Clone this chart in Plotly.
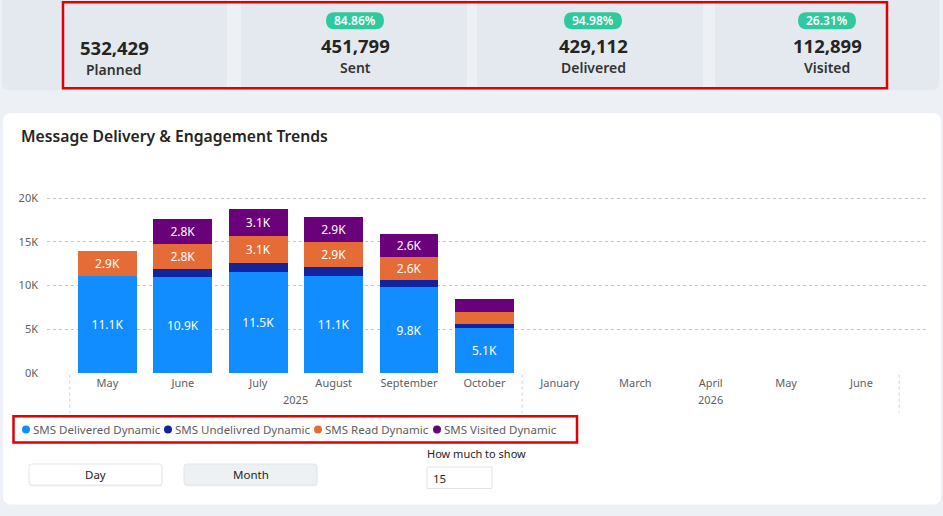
import plotly.graph_objects as go

# ---------------- data ----------------
months = ["May", "June", "July", "August", "September", "October",
          "January", "March", "April", "May", "June"]
years = ["2025"] * 6 + ["2026"] * 5
delivered = [11120, 10940, 11540, 11140, 9790, 5120, None, None, None, None, None]
undelivered = [0, 1000, 1050, 1020, 910, 450, None, None, None, None, None]
read = [2890, 2840, 3080, 2860, 2630, 1410, None, None, None, None, None]
visited = [0, 2810, 3090, 2890, 2630, 1450, None, None, None, None, None]
series_names = ["SMS Delivered Dynamic", "SMS Undelivred Dynamic",
                "SMS Read Dynamic", "SMS Visited Dynamic"]
series_colors = ["#118DFF", "#12239E", "#E66C37", "#6B007B"]
y_ticks = [0, 5000, 10000, 15000, 20000]
y_tick_labels = ["0K", "5K", "10K", "15K", "20K"]

kpi_labels = ["Planned", "Sent", "Delivered", "Visited"]
kpi_values = [532429, 451799, 429112, 112899]
kpi_badges = [None, "84.86%", "94.98%", "26.31%"]

title_text = "Message Delivery & Engagement Trends"
buttons = ["Day", "Month"]
input_label = "How much to show"
input_value = "15"

# ---------------- geometry helpers ----------------
W, H = 943, 516
PL, PR, PT, PB = 47, 927, 190, 373.3
FONT = "Noto Sans"


def px(x):
    return (x - PL) / (PR - PL)


def py(y):
    return (PB - y) / (PB - PT)


def rrect(x0, y0, x1, y1, r):
    pts = [
        ("M", [(x0 + r, y0)]),
        ("L", [(x1 - r, y0)]),
        ("Q", [(x1, y0), (x1, y0 + r)]),
        ("L", [(x1, y1 - r)]),
        ("Q", [(x1, y1), (x1 - r, y1)]),
        ("L", [(x0 + r, y1)]),
        ("Q", [(x0, y1), (x0, y1 - r)]),
        ("L", [(x0, y0 + r)]),
        ("Q", [(x0, y0), (x0 + r, y0)]),
    ]
    s = ""
    for cmd, ps in pts:
        s += cmd + " " + " ".join(f"{px(a):.5f},{py(b):.5f}" for a, b in ps) + " "
    return s + "Z"


shapes = []
annotations = []


def add_rrect(x0, y0, x1, y1, r, fill, line=None, lw=0, layer="below"):
    shapes.append(dict(type="path", path=rrect(x0, y0, x1, y1, r), xref="paper", yref="paper",
                       fillcolor=fill, line=dict(color=line or "rgba(0,0,0,0)", width=lw),
                       layer=layer))


def add_text(x, y, text, size, color="#252423", weight=400, xanchor="center"):
    annotations.append(dict(x=px(x), y=py(y), xref="paper", yref="paper", text=text,
                            showarrow=False, xanchor=xanchor, yanchor="middle",
                            font=dict(family=FONT, size=size, color=color, weight=weight)))


# ---------------- KPI cards ----------------
card_x = [(2, 227), (241, 467), (477, 703), (715, 939)]
card_cx = [114, 355, 593, 827]
for (x0, x1) in card_x:
    add_rrect(x0, -8, x1, 90, 7, "#e4e9f0")
for i, lab in enumerate(kpi_labels):
    cx = card_cx[i]
    if kpi_badges[i]:
        add_rrect(cx - 29, 12, cx + 29, 29, 8.5, "#2ec99e")
        add_text(cx, 20.5, kpi_badges[i], 12, "#ffffff", 600)
        add_text(cx, 45.5, f"{kpi_values[i]:,}", 18.5, "#252423", 700)
        add_text(cx, 67, lab, 14, "#333333", 600)
    else:
        add_text(cx, 47, f"{kpi_values[i]:,}", 18.5, "#252423", 700)
        add_text(cx, 69, lab, 14, "#333333", 600)

# red highlight box around KPIs
shapes.append(dict(type="rect", xref="paper", yref="paper", x0=px(63), x1=px(887),
                   y0=py(2), y1=py(88), line=dict(color="#e00000", width=2.5),
                   fillcolor="rgba(0,0,0,0)", layer="above"))

# ---------------- chart panel ----------------
add_rrect(3, 113, 941, 505, 8, "#ffffff")
add_text(19, 136, title_text, 15.7, "#252423", 600, xanchor="left")

# ---------------- bars ----------------
x_idx = list(range(len(months)))
all_series = [delivered, undelivered, read, visited]
traces = []
for name, vals, col in zip(series_names, all_series, series_colors):
    labels = [f"{v/1000:.1f}K" if (v is not None and v >= 2000) else "" for v in vals]
    traces.append(go.Bar(
        x=x_idx, y=vals, name=name, marker=dict(color=col, line=dict(width=0)),
        width=0.78, text=labels, textposition="inside", insidetextanchor="middle",
        textangle=0, textfont=dict(family=FONT, size=12, color="#ffffff"),
        showlegend=False, hoverinfo="skip"))

fig = go.Figure(traces)

# year dividers and labels
groups = []
for i, yv in enumerate(years):
    if not groups or groups[-1][0] != yv:
        groups.append([yv, [i]])
    else:
        groups[-1][1].append(i)
bounds = [-0.5] + [g[1][-1] + 0.5 for g in groups]
for b in bounds:
    shapes.append(dict(type="line", xref="x", yref="paper", x0=b, x1=b,
                       y0=py(375), y1=py(413), line=dict(color="#d0d0d0", width=1, dash="dot")))
for yv, idxs in groups:
    annotations.append(dict(x=sum(idxs) / len(idxs), y=py(400), xref="x", yref="paper",
                            text=yv, showarrow=False, yanchor="middle",
                            font=dict(family=FONT, size=11, color="#605e5c")))

# ---------------- legend (custom, round markers) ----------------
legend_x = [22, 164, 314, 433]
for name, col, lx in zip(series_names, series_colors, legend_x):
    shapes.append(dict(type="circle", xref="paper", yref="paper",
                       x0=px(lx), x1=px(lx + 8), y0=py(426), y1=py(434),
                       fillcolor=col, line=dict(width=0), layer="above"))
    annotations.append(dict(x=px(lx + 9), y=py(430), xref="paper", yref="paper",
                            text=name, showarrow=False, xanchor="left", yanchor="middle",
                            font=dict(family=FONT, size=11.5, color="#605e5c")))
shapes.append(dict(type="rect", xref="paper", yref="paper", x0=px(13.5), x1=px(577),
                   y0=py(416.5), y1=py(443), line=dict(color="#e00000", width=2.5),
                   fillcolor="rgba(0,0,0,0)", layer="above"))

# ---------------- buttons & input ----------------
btn_x = [(29, 162), (184, 317)]
btn_fill = ["#ffffff", "#eef1f4"]
for (x0, x1), lab, fill in zip(btn_x, buttons, btn_fill):
    add_rrect(x0, 465.5, x1 + 0.5, 487, 3, "rgba(0,0,0,0.05)")
    add_rrect(x0, 464.5, x1, 485.5, 3, fill, "#e3e5e8", 1)
    add_text((x0 + x1) / 2, 475, lab, 11.5, "#252423", 400)

add_text(425, 454, input_label, 11, "#252423", 400, xanchor="left")
shapes.append(dict(type="rect", xref="paper", yref="paper", x0=px(427), x1=px(492),
                   y0=py(467.5), y1=py(489), line=dict(color="#e3e3e3", width=1),
                   fillcolor="#ffffff", layer="below"))
add_text(431, 478.5, input_value, 11.5, "#252423", 400, xanchor="left")

# ---------------- layout ----------------
fig.update_layout(
    width=W, height=H, barmode="stack",
    margin=dict(l=PL, r=W - PR, t=PT, b=H - PB, pad=0),
    paper_bgcolor="#edf1f6", plot_bgcolor="rgba(0,0,0,0)",
    font=dict(family=FONT, color="#605e5c"),
    shapes=shapes, annotations=annotations, showlegend=False,
    xaxis=dict(tickmode="array", tickvals=x_idx, ticktext=months,
               range=[-0.802, 10.869], showgrid=False, zeroline=False, showline=False,
               ticks="", ticklabelstandoff=2,
               tickfont=dict(family=FONT, size=11, color="#605e5c"), fixedrange=True),
    yaxis=dict(tickmode="array", tickvals=y_ticks, ticktext=y_tick_labels,
               range=[0, 20949], showgrid=True, gridcolor="#c8c6c4", griddash="dot",
               gridwidth=1, zeroline=False, showline=False, ticks="",
               ticklabelstandoff=8,
               tickfont=dict(family=FONT, size=11, color="#605e5c"), fixedrange=True),
)

fig.write_html("out.html", config={"displayModeBar": False})
